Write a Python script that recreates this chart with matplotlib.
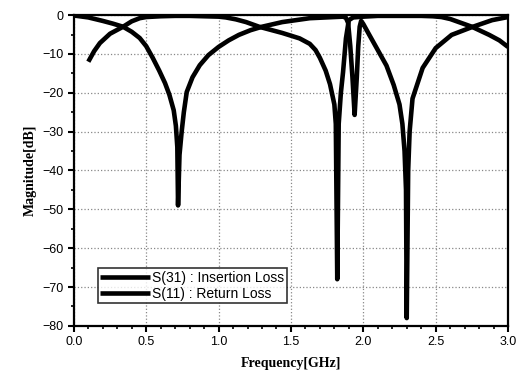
import numpy as np
import matplotlib.pyplot as plt
from matplotlib.ticker import MultipleLocator

# S(31) : insertion loss
f_s31 = [0.10, 0.14, 0.18, 0.25, 0.34, 0.40, 0.455, 0.50, 0.60, 0.70, 0.80, 0.90,
         1.00, 1.05, 1.12, 1.19, 1.28, 1.36, 1.44, 1.50, 1.56, 1.63, 1.67, 1.70,
         1.74, 1.77, 1.80, 1.81, 1.82, 1.83, 1.845, 1.86, 1.88, 1.90, 1.93, 2.00,
         2.10, 2.20, 2.30, 2.40, 2.48, 2.54, 2.60, 2.66, 2.75, 2.87, 2.94, 3.00]
s31 = [-12.0, -9.3, -7.2, -4.8, -3.0, -1.6, -0.8, -0.5, -0.3, -0.2, -0.2, -0.3,
       -0.4, -0.6, -1.1, -1.8, -3.0, -3.8, -4.6, -5.3, -6.0, -7.4, -9.0, -11.0,
       -14.3, -17.8, -23.0, -28.0, -68.0, -28.0, -20.0, -14.7, -6.0, -1.3, -0.6, -0.4,
       -0.2, -0.2, -0.2, -0.2, -0.3, -0.5, -1.0, -1.8, -3.0, -5.1, -6.5, -8.2]

# S(11) : return loss
f_s11 = [0.00, 0.10, 0.20, 0.27, 0.34, 0.40, 0.455, 0.50, 0.545, 0.59, 0.63, 0.66,
         0.69, 0.705, 0.715, 0.72, 0.73, 0.745, 0.76, 0.78, 0.82, 0.87, 0.93, 1.00,
         1.07, 1.14, 1.22, 1.30, 1.44, 1.63, 1.80, 1.86, 1.88, 1.895, 1.91, 1.925,
         1.94, 1.955, 1.965, 1.975, 1.985, 2.00, 2.04, 2.10, 2.16, 2.21, 2.25, 2.27,
         2.285, 2.295, 2.30, 2.31, 2.32, 2.34, 2.41, 2.50, 2.61, 2.75, 2.89, 3.00]
s11 = [-0.1, -0.6, -1.5, -2.2, -3.0, -4.3, -5.9, -8.0, -11.0, -14.3, -17.5, -20.5,
       -24.5, -28.5, -34.0, -49.0, -36.0, -30.0, -25.0, -19.8, -16.0, -12.9, -10.3, -8.2,
       -6.5, -5.1, -3.9, -3.0, -1.8, -0.8, -0.5, -0.4, -0.7, -2.0, -8.0, -16.0,
       -25.7, -16.0, -8.0, -3.0, -1.5, -2.3, -5.0, -9.0, -13.0, -18.0, -23.0, -28.0,
       -35.0, -45.0, -78.0, -40.0, -30.0, -21.5, -13.6, -8.5, -5.1, -3.1, -1.3, -0.5]

x_ticks = [0.0, 0.5, 1.0, 1.5, 2.0, 2.5, 3.0]
y_ticks = [0, -10, -20, -30, -40, -50, -60, -70, -80]

plt.rcParams['font.family'] = ['Liberation Sans', 'DejaVu Sans']

fig = plt.figure(figsize=(5.2, 3.87), dpi=100)
ax = fig.add_axes([0.142, 0.158, 0.835, 0.803])

ax.plot(f_s31, s31, color='black', linewidth=3.3, label='S(31) : Insertion Loss',
        solid_joinstyle='round', solid_capstyle='butt')
ax.plot(f_s11, s11, color='black', linewidth=3.3, label='S(11) : Return Loss',
        solid_joinstyle='round', solid_capstyle='butt')

ax.set_xlim(0, 3.0)
ax.set_ylim(-80, 0)
ax.set_xticks(x_ticks)
ax.set_xticklabels([f'{v:.1f}' for v in x_ticks])
ax.set_yticks(y_ticks)
ax.xaxis.set_minor_locator(MultipleLocator(0.1))
ax.yaxis.set_minor_locator(MultipleLocator(5))
ax.tick_params(axis='both', which='major', direction='out', length=4, width=1.5,
               labelsize=9)
ax.tick_params(axis='both', which='minor', direction='out', length=2.5, width=1.2)

ax.grid(True, which='major', color='#888888', linestyle=':', linewidth=0.9)
for s in ax.spines.values():
    s.set_linewidth(1.6)

ax.set_xlabel('Frequency[GHz]', fontfamily='Liberation Serif', fontweight='bold',
              fontsize=10, labelpad=6)
ax.set_ylabel('Magnitude[dB]', fontfamily='Liberation Serif', fontweight='bold',
              fontsize=10, labelpad=4)

leg = ax.legend(loc='lower left', bbox_to_anchor=(0.055, 0.072), fontsize=10,
                frameon=True, fancybox=False, handlelength=3.6, handletextpad=0.1,
                borderpad=0.2, labelspacing=0.15, borderaxespad=0)
leg.get_frame().set_edgecolor('black')
leg.get_frame().set_linewidth(1.2)

fig.savefig('out.png', dpi=100)
